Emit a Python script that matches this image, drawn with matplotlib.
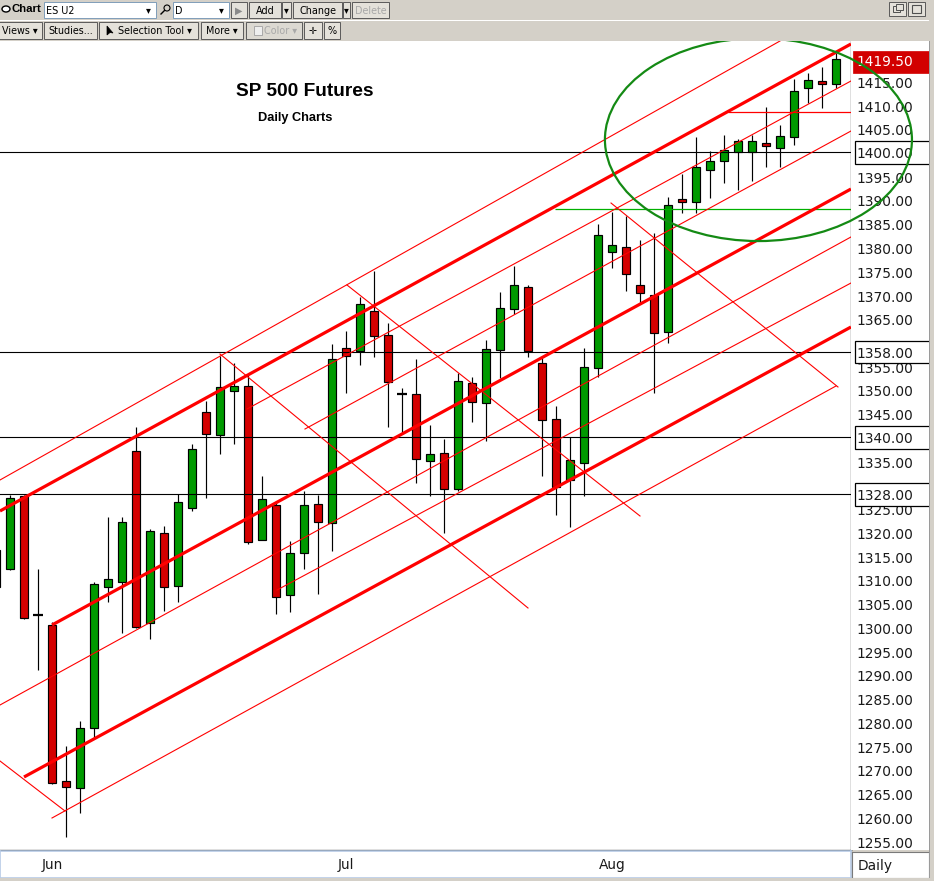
import numpy as np
import matplotlib
matplotlib.use("Agg")
import matplotlib.pyplot as plt
from matplotlib.patches import Rectangle, Ellipse
from matplotlib import transforms as mtrans

W, H = 934, 881

# ---------------- data ----------------
opens = [1308.4, 1312.2, 1327.6, 1302.5, 1300.4, 1267.6, 1266.1, 1278.7, 1308.4, 1309.5,
         1337.1, 1300.8, 1319.8, 1308.6, 1325.1, 1345.3, 1340.4, 1349.7, 1350.7, 1318.3,
         1325.7, 1306.7, 1315.6, 1325.9, 1321.9, 1358.7, 1358.1, 1366.5, 1361.5, 1349.1,
         1349.1, 1334.9, 1336.6, 1329.1, 1351.4, 1347.2, 1358.3, 1366.9, 1371.6, 1355.6,
         1343.8, 1330.9, 1334.5, 1354.5, 1378.9, 1380.0, 1372.0, 1369.9, 1362.1, 1390.1,
         1389.5, 1396.2, 1398.1, 1400.0, 1400.0, 1401.9, 1400.8, 1403.2, 1413.5, 1414.9,
         1414.3]
highs = [1317.0, 1327.8, 1327.8, 1312.2, 1301.1, 1274.9, 1280.2, 1309.5, 1323.2, 1323.2,
         1342.1, 1320.6, 1321.3, 1328.0, 1338.5, 1347.6, 1357.1, 1355.6, 1353.1, 1331.8,
         1326.5, 1318.1, 1328.6, 1327.8, 1359.6, 1362.3, 1369.5, 1374.9, 1364.0, 1350.3,
         1356.4, 1342.5, 1339.6, 1353.5, 1352.6, 1360.4, 1370.5, 1376.0, 1372.0, 1356.6,
         1346.5, 1340.0, 1358.7, 1384.8, 1387.4, 1386.5, 1381.5, 1382.9, 1390.5, 1395.4,
         1403.2, 1400.2, 1403.6, 1402.7, 1403.6, 1409.5, 1405.7, 1415.4, 1416.6, 1417.9,
         1420.8]
lows = [1307.0, 1312.0, 1301.7, 1290.9, 1267.0, 1255.8, 1260.8, 1276.6, 1305.3, 1298.7,
        1299.8, 1297.5, 1303.4, 1305.3, 1324.4, 1327.2, 1336.4, 1338.5, 1317.5, 1318.3,
        1302.7, 1303.2, 1312.2, 1306.9, 1316.0, 1349.3, 1355.2, 1356.8, 1342.1, 1340.8,
        1330.3, 1327.6, 1319.8, 1328.6, 1343.2, 1339.2, 1352.4, 1365.9, 1356.8, 1331.8,
        1323.6, 1321.1, 1327.6, 1352.6, 1375.6, 1370.7, 1368.2, 1349.3, 1359.8, 1387.2,
        1387.2, 1390.3, 1393.5, 1392.0, 1393.9, 1396.8, 1396.8, 1401.5, 1410.3, 1409.3,
        1413.5]
closes = [1316.2, 1327.2, 1301.9, 1302.5, 1267.2, 1266.3, 1278.7, 1309.1, 1310.1, 1322.1,
          1300.0, 1320.2, 1308.4, 1326.3, 1337.5, 1340.6, 1350.5, 1350.7, 1317.9, 1326.9,
          1306.3, 1315.6, 1325.7, 1322.1, 1356.4, 1357.1, 1368.0, 1361.3, 1351.6, 1349.1,
          1335.4, 1336.4, 1329.1, 1351.8, 1347.4, 1358.5, 1367.2, 1372.0, 1358.1, 1343.6,
          1329.5, 1335.2, 1354.7, 1382.5, 1380.4, 1374.3, 1370.3, 1361.9, 1388.8, 1389.5,
          1396.8, 1398.1, 1400.4, 1402.3, 1402.3, 1401.3, 1403.4, 1412.8, 1415.2, 1414.3,
          1419.5]

month_labels = ["Jun", "Jul", "Aug"]
month_bars = [4, 25, 44]
price_ticks = list(range(1255, 1420, 5))
level_lines = [1400, 1358, 1340, 1328]
last_price = 1419.50

# trend channel lines: ((bar, price), (bar, price))
thick_lines = [((0.2857, 1324.42), (61.07, 1422.74)),
               ((4.0, 1300.42), (61.07, 1392.21)),
               ((2.0, 1268.42), (61.07, 1363.16))]
thin_lines = [((0.2857, 1330.95), (56.0, 1423.37)),
              ((17.93, 1345.9), (61.07, 1414.95)),
              ((22.07, 1341.68), (61.07, 1404.42)),
              ((0.2857, 1283.58), (61.07, 1382.11)),
              ((20.07, 1307.79), (61.07, 1372.42)),
              ((4.0, 1259.79), (60.0, 1350.74))]
cross_lines = [((0.2857, 1271.79), (4.93, 1261.26)),
               ((16.0, 1357.47), (38.0, 1304.0)),
               ((25.07, 1372.0), (46.0, 1323.37)),
               ((43.93, 1389.26), (60.14, 1350.53))]
red_level = (52.3, 1408.5)
green_level = (39.9, 1388.0)
circle_center = (54.46, 1402.6)
circle_size = (21.93, 42.7)

# ---------------- figure ----------------
fig = plt.figure(figsize=(W / 100, H / 100), dpi=100)
fig.patch.set_facecolor("#d4d0c8")

def frect(x0, y0, x1, y1, **kw):
    r = Rectangle((x0 / W, 1 - y1 / H), (x1 - x0) / W, (y1 - y0) / H,
                  transform=fig.transFigure, **kw)
    fig.add_artist(r)
    return r

def ftext(x, y, s, **kw):
    return fig.text(x / W, 1 - y / H, s, **kw)

YLO = 1400 - 698 / 4.75
YHI = 1400 + 111 / 4.75
XLO, XHI = 4 / 14, 855 / 14

ax = fig.add_axes([0, 1 - 850 / H, 851 / W, (850 - 41) / H])
ax.set_xlim(XLO, XHI)
ax.set_ylim(YLO, YHI)
ax.set_facecolor("white")
ax.set_xticks([])
ax.set_yticks([])
for s in ["left", "top"]:
    ax.spines[s].set_visible(False)
for s in ["right", "bottom"]:
    ax.spines[s].set_color("black")
    ax.spines[s].set_linewidth(0.9)

o = np.array(opens); h = np.array(highs); l = np.array(lows); c = np.array(closes)
x = np.arange(len(o))
ax.vlines(x, l, h, color="black", lw=0.85, zorder=2)
up = c > o
dn = c < o
dj = c == o
ax.bar(x[up], (c - o)[up], bottom=o[up], width=0.62, color="#009a00",
       edgecolor="black", linewidth=0.85, zorder=3)
ax.bar(x[dn], (o - c)[dn], bottom=c[dn], width=0.62, color="#d40000",
       edgecolor="black", linewidth=0.85, zorder=3)
ax.hlines(c[dj], x[dj] - 0.33, x[dj] + 0.33, color="black", lw=1.6, zorder=3)

for lv in level_lines:
    ax.axhline(lv, color="black", lw=0.8, zorder=4)
ax.hlines(red_level[1], red_level[0], XHI, color="#ff0000", lw=0.9, zorder=4)
ax.hlines(green_level[1], green_level[0], XHI, color="#00b000", lw=0.9, zorder=4)

for (p0, p1) in thin_lines + cross_lines:
    ax.plot([p0[0], p1[0]], [p0[1], p1[1]], color="#ff0000", lw=0.8, zorder=5)
for (p0, p1) in thick_lines:
    ax.plot([p0[0], p1[0]], [p0[1], p1[1]], color="#ff0000", lw=2.3, zorder=5,
            solid_capstyle="butt")

ell = Ellipse(circle_center, circle_size[0], circle_size[1], fill=False,
              edgecolor="#148a14", lw=1.6, zorder=6)
ax.add_patch(ell)
ell.set_clip_path(Rectangle((0, 1 - 850 / H), 851 / W, (850 - 41) / H,
                            transform=fig.transFigure))

ax.text((305 + 4) / 14, 1400 - (92 - 152) / 4.75, "SP 500 Futures", ha="center", va="center",
        fontsize=13.8, fontweight="bold", family="Liberation Sans", zorder=7)
ax.text((295.5 + 4) / 14, 1400 - (118 - 152) / 4.75, "Daily Charts", ha="center", va="center",
        fontsize=9.2, fontweight="bold", family="Liberation Sans", zorder=7)

# ---------------- right price panel ----------------
axr = fig.add_axes([851 / W, 1 - 850 / H, 78 / W, (850 - 41) / H])
axr.set_xlim(0, 78)
axr.set_ylim(YLO, YHI)
axr.set_facecolor("white")
axr.set_xticks([]); axr.set_yticks([])
for s in axr.spines.values():
    s.set_visible(False)
toff = mtrans.offset_copy(axr.transData, fig=fig, x=0, y=-3, units="dots")
for t in price_ticks:
    # labels sitting under a boxed level marker are hidden by the box
    if min(abs(t - lv) for lv in level_lines) < 3:
        continue
    axr.text(5, t, f"{t:.2f}", transform=toff, ha="left", va="center",
             fontsize=9.9, color="#1a1a1a", zorder=2)
boff = mtrans.offset_copy(axr.transData, fig=fig, x=0, y=-2, units="dots")
for lv in level_lines:
    axr.add_patch(Rectangle((4, lv - 11.5 / 4.75), 74.5, 22.5 / 4.75, facecolor="white",
                            edgecolor="black", lw=0.9, zorder=3, clip_on=False))
    axr.text(5.5, lv, f"{lv:.2f}", transform=boff,
             ha="left", va="center", fontsize=9.9, color="#1a1a1a", zorder=4)
axr.add_patch(Rectangle((1.5, last_price - 14 / 4.75), 76, 22.5 / 4.75, facecolor="#d20000",
                        edgecolor="#d20000", lw=0.5, zorder=3, clip_on=False))
axr.text(5, last_price, f"{last_price:.2f}", transform=toff,
         ha="left", va="center", fontsize=9.9, color="white", zorder=4)

# ellipse part over the price panel
ell2 = Ellipse(circle_center, circle_size[0], circle_size[1], fill=False,
               edgecolor="#148a14", lw=1.6, zorder=10, transform=ax.transData)
ell2.set_clip_path(Rectangle((851 / W, 1 - 850 / H), 78 / W, (850 - 41) / H,
                             transform=fig.transFigure))
fig.add_artist(ell2)

# ---------------- bottom time panel ----------------
axb = fig.add_axes([0, 1 - 878 / H, 851 / W, 27 / H])
axb.set_xlim(XLO, XHI)
axb.set_ylim(0, 1)
axb.set_facecolor("white")
axb.set_xticks([]); axb.set_yticks([])
for s in axb.spines.values():
    s.set_color("#b7cbe6"); s.set_linewidth(1.2)
for b, lab in zip(month_bars, month_labels):
    axb.text(b, 0.48, lab, ha="center", va="center", fontsize=9.9, color="#1a1a1a")

axd = fig.add_axes([852 / W, 1 - 878 / H, 77 / W, 26 / H])
axd.set_xlim(0, 1); axd.set_ylim(0, 1)
axd.set_facecolor("white")
axd.set_xticks([]); axd.set_yticks([])
for s in axd.spines.values():
    s.set_color("#7a7a7a"); s.set_linewidth(0.8)
axd.text(0.07, 0.47, "Daily", ha="left", va="center", fontsize=9.9, color="#1a1a1a")

# ---------------- toolbar ----------------
frect(0, 0, W, 41, facecolor="#d4d0c8", edgecolor="none")
frect(0, 20, W, 21, facecolor="#ffffff", edgecolor="none")
frect(929, 0, W, H, facecolor="#d4d0c8", edgecolor="none")
frect(0, 878, W, H, facecolor="#d4d0c8", edgecolor="none")
frect(929, 41, 930, 878, facecolor="#9a9a9a", edgecolor="none")

FS = 6.9
def button(x0, x1, y0, y1, label="", color="black", face="#e4e1da", tx=None, **kw):
    frect(x0, y0, x1, y1, facecolor=face, edgecolor="#5a5a5a", lw=0.7)
    if label:
        xx = (x0 + x1) / 2 if tx is None else tx
        ftext(xx, (y0 + y1) / 2 + 0.5, label, ha="center", va="center", fontsize=FS,
              color=color, **kw)

# row 1
fig.add_artist(Ellipse((6 / W, 1 - 9 / H), 8 / W, 6 / H, transform=fig.transFigure,
                       facecolor="white", edgecolor="black", lw=1.0))
ftext(12, 9.5, "Chart", ha="left", va="center", fontsize=8.2, fontweight="bold",
      family="Liberation Sans")
frect(44, 2, 156, 18, facecolor="white", edgecolor="#7f9db9", lw=0.7)
ftext(46, 10.5, "ES U2", ha="left", va="center", fontsize=FS)
ftext(148, 10, "▾", ha="center", va="center", fontsize=7)
fig.add_artist(Ellipse((167 / W, 1 - 8 / H), 6 / W, 6 / H, transform=fig.transFigure,
                       facecolor="none", edgecolor="black", lw=0.8))
fig.add_artist(plt.Line2D([161 / W, 164.5 / W], [1 - 14 / H, 1 - 10.5 / H],
                          transform=fig.transFigure, color="black", lw=1.0))
frect(173, 2, 229, 18, facecolor="white", edgecolor="#7f9db9", lw=0.7)
ftext(175, 10.5, "D", ha="left", va="center", fontsize=FS)
ftext(221, 10, "▾", ha="center", va="center", fontsize=7)
button(231, 247, 2, 18, "▶", color="#8a8a8a")
button(249, 281, 2, 18, "Add")
button(282, 291, 2, 18, "▾")
button(293, 342, 2, 18, "Change")
button(343, 350, 2, 18, "▾")
button(352, 389, 2, 18, "Delete", color="#a8a8a8")
# window buttons (drawn icons)
button(889, 906, 2, 16)
frect(893, 6, 900, 12, facecolor="none", edgecolor="#505050", lw=0.7)
frect(896, 4, 903, 10, facecolor="#e4e1da", edgecolor="#505050", lw=0.7)
button(908, 925, 2, 16)
frect(912, 5, 921, 13, facecolor="none", edgecolor="#505050", lw=0.8)

# row 2
button(-2, 42, 22, 39, "Views ▾")
button(44, 97, 22, 39, "Studies...")
button(99, 198, 22, 39, "Selection Tool ▾", tx=155)
fig.add_artist(plt.Polygon([[107 / W, 1 - 26 / H], [107 / W, 1 - 35 / H], [110 / W, 1 - 32.5 / H],
                            [113 / W, 1 - 33 / H]], closed=True, transform=fig.transFigure,
                           facecolor="black", edgecolor="black", lw=0.5))
button(201, 243, 22, 39, "More ▾")
button(246, 302, 22, 39, "", face="#dcd9d2")
frect(254, 26, 262, 35, facecolor="#eeeeee", edgecolor="#a0a0a0", lw=0.6)
ftext(264, 31, "Color ▾", ha="left", va="center", fontsize=FS, color="#a8a8a8")
button(304, 322, 22, 39, "✛")
button(324, 340, 22, 39, "%")

fig.savefig("out.png", dpi=100, facecolor=fig.get_facecolor())
